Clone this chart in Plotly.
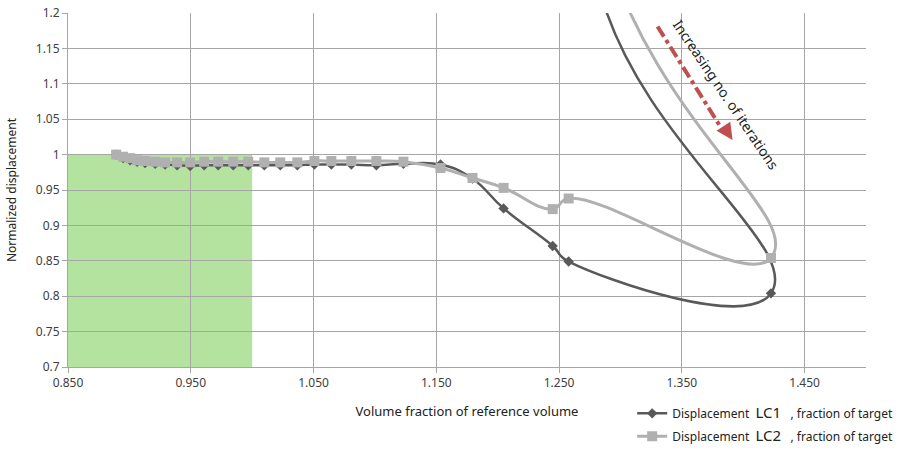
import plotly.graph_objects as go

# ---- data (last two points of each series lie above the visible y-range) ----
lc1_x = [0.8892, 0.8949, 0.9006, 0.9063, 0.9128, 0.9210, 0.9291, 0.9389, 0.9495, 0.9609,
         0.9723, 0.9846, 0.9968, 1.0099, 1.0229, 1.0368, 1.0507, 1.0645, 1.0808, 1.1012,
         1.1232, 1.1534, 1.1795, 1.2048, 1.2448, 1.2578, 1.4226, 1.283, 1.281]
lc1_y = [1.000, 0.995, 0.992, 0.990, 0.988, 0.987, 0.986, 0.985, 0.984, 0.985,
         0.985, 0.985, 0.985, 0.985, 0.985, 0.985, 0.986, 0.986, 0.986, 0.985,
         0.987, 0.986, 0.966, 0.924, 0.871, 0.849, 0.804, 1.233, 1.924]

lc2_x = [0.8892, 0.8949, 0.9006, 0.9063, 0.9128, 0.9210, 0.9291, 0.9389, 0.9495, 0.9609,
         0.9723, 0.9846, 0.9968, 1.0099, 1.0229, 1.0368, 1.0507, 1.0645, 1.0808, 1.1012,
         1.1232, 1.1534, 1.1795, 1.2048, 1.2448, 1.2578, 1.4226, 1.284, 1.278]
lc2_y = [1.000, 0.997, 0.995, 0.992, 0.991, 0.990, 0.989, 0.989, 0.989, 0.990,
         0.990, 0.990, 0.990, 0.989, 0.989, 0.989, 0.991, 0.991, 0.991, 0.991,
         0.990, 0.981, 0.967, 0.953, 0.923, 0.938, 0.854, 1.317, 2.733]

target_x = [0.85, 1.0]
target_y = [0.7, 1.0]

x_ticks = [0.85, 0.95, 1.05, 1.15, 1.25, 1.35, 1.45]
x_tick_text = ["0.850", "0.950", "1.050", "1.150", "1.250", "1.350", "1.450"]
y_ticks = [0.7, 0.75, 0.8, 0.85, 0.9, 0.95, 1.0, 1.05, 1.1, 1.15, 1.2]
y_tick_text = ["0.7", "0.75", "0.8", "0.85", "0.9", "0.95", "1", "1.05", "1.1", "1.15", "1.2"]

DARK = "#595959"
LIGHT = "#b0b0b0"
RED = "#c0504d"
FONT = "Noto Sans"

fig = go.Figure()
fig.add_trace(go.Scatter(
    x=lc1_x, y=lc1_y, mode="lines+markers",
    name="Displacement  <span style='font-size:15px'>LC1</span>   , fraction of target",
    line=dict(color=DARK, width=2.5, shape="spline", smoothing=1.3),
    marker=dict(symbol="diamond", size=8, color=DARK), legendgroup="a"))
fig.add_trace(go.Scatter(
    x=lc2_x, y=lc2_y, mode="lines+markers",
    name="Displacement  <span style='font-size:15px'>LC2</span>   , fraction of target",
    line=dict(color=LIGHT, width=3, shape="spline", smoothing=1.3),
    marker=dict(symbol="square", size=10, color=LIGHT), legendgroup="b"))

# green target region (under the gridlines)
fig.add_shape(type="rect", xref="x", yref="y",
              x0=target_x[0], x1=target_x[1], y0=target_y[0], y1=target_y[1],
              fillcolor="#b4e3a0", line=dict(width=0), layer="below")

# dash-dot arrow + label
fig.add_shape(type="line", xref="x", yref="y", x0=1.3302, y0=1.181, x1=1.383, y1=1.035,
              line=dict(color=RED, width=4, dash="dashdot"))
fig.add_annotation(x=1.3913, y=1.0207, xref="x", yref="y", text="", showarrow=True,
                   ax=-8, ay=-12, arrowhead=2, arrowsize=1.1, arrowwidth=3, arrowcolor=RED)
fig.add_annotation(x=1.386, y=1.085, xref="x", yref="y", text="Increasing no. of iterations",
                   showarrow=False, textangle=56,
                   font=dict(family=FONT, size=14, color="#222222"))

axis_common = dict(
    showgrid=True, gridcolor="#a6a6a6", gridwidth=1,
    showline=True, linecolor="#a6a6a6", linewidth=1,
    ticks="outside", ticklen=5, tickcolor="#a6a6a6", ticklabeloverflow="allow",
    tickfont=dict(family=FONT, size=12, color="#404040"),
    zeroline=False, automargin=False,
)
fig.update_xaxes(range=[0.85, 1.5], tickvals=x_ticks, ticktext=x_tick_text,
                 title=dict(text="Volume fraction of reference volume",
                            font=dict(family=FONT, size=13, color="#222222"), standoff=16),
                 **axis_common)
fig.update_yaxes(range=[0.7, 1.2], tickvals=y_ticks, ticktext=y_tick_text,
                 title=dict(text="Normalized displacement",
                            font=dict(family=FONT, size=12, color="#222222"), standoff=16),
                 **axis_common)

fig.update_layout(
    width=915, height=463,
    margin=dict(l=68, r=49, t=13, b=96, autoexpand=False),
    paper_bgcolor="white", plot_bgcolor="white",
    showlegend=True,
    legend=dict(x=0.707, y=-0.09, xanchor="left", yanchor="top",
                font=dict(family=FONT, size=12, color="#222222"),
                bgcolor="rgba(0,0,0,0)", itemwidth=30, tracegroupgap=4),
)

fig.write_html("out.html", config={"displayModeBar": False},
               post_script="document.body.style.margin='0';document.body.style.overflow='hidden';")
